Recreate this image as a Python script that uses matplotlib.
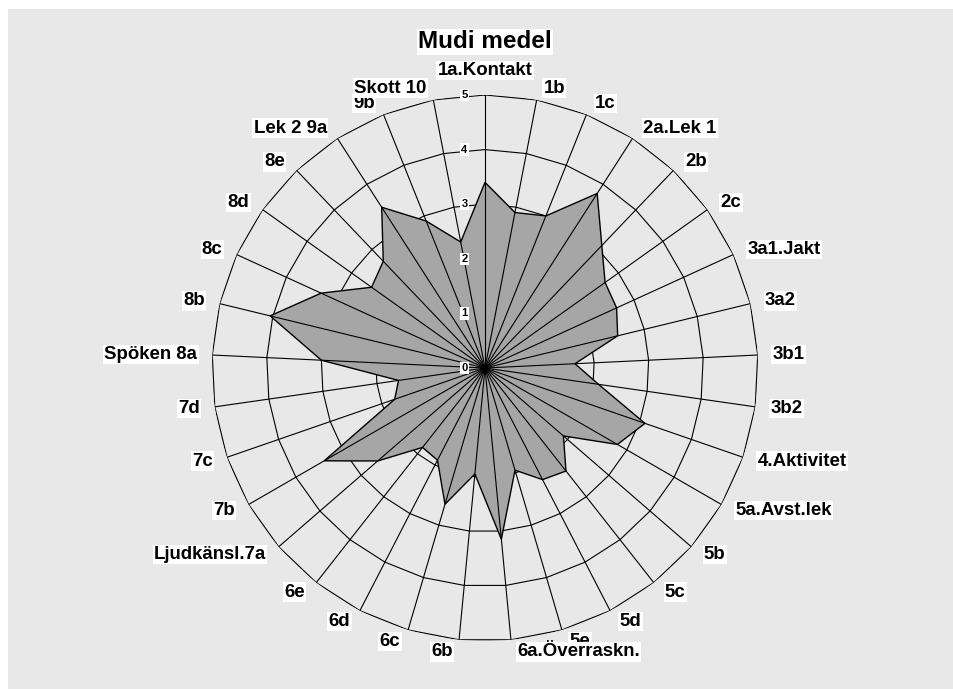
# -*- coding: utf-8 -*-

import numpy as np
import matplotlib
matplotlib.use('Agg')
import matplotlib.pyplot as plt
from matplotlib.patches import Rectangle

plt.rcParams['font.family'] = ['Liberation Sans', 'DejaVu Sans']

# Chart data.
title = 'Mudi medel'
categories = ['1a.Kontakt', '1b', '1c', '2a.Lek 1', '2b', '2c', '3a1.Jakt', '3a2',
              '3b1', '3b2', '4.Aktivitet', '5a.Avst.lek', '5b', '5c', '5d', '5e',
              '6a.Överraskn.', '6b', '6c', '6d', '6e', 'Ljudkänsl.7a', '7b', '7c',
              '7d', 'Spöken 8a', '8b', '8c', '8d', '8e', 'Lek 2 9a', '9b', 'Skott 10']
values = [3.4, 2.9, 3.0, 3.8, 3.1, 2.7, 2.65, 2.5,
          1.65, 2.1, 3.1, 2.8, 1.9, 2.4, 2.3, 1.95,
          3.15, 1.95, 2.6, 1.9, 1.85, 2.6, 3.4, 1.75,
          1.6, 3.0, 4.05, 3.3, 2.55, 2.7, 3.5, 2.9, 2.35]
ring_levels = [0, 1, 2, 3, 4, 5]
tick_labels = ['0', '1', '2', '3', '4', '5']

W, H = 954, 689
cx, cy, R = 485, 368, 273   # centre and outer radius in pixels

fig = plt.figure(figsize=(W / 100., H / 100.), dpi=100)
fig.patch.set_facecolor('white')
fig.add_artist(Rectangle((8. / W, 0), 1, 1 - 9. / H, transform=fig.transFigure,
                         facecolor='#e8e8e8', edgecolor='none', zorder=0))

ax = fig.add_axes([(cx - R) / W, (H - cy - R) / H, 2. * R / W, 2. * R / H],
                  projection='polar')
ax.set_theta_zero_location('N')
ax.set_theta_direction(-1)
ax.set_ylim(0, ring_levels[-1])
ax.set_facecolor('none')
ax.grid(False)
ax.set_xticks([])
ax.set_yticks([])
ax.spines['polar'].set_visible(False)

n = len(categories)
theta = np.linspace(0, 2 * np.pi, n, endpoint=False)
theta_c = np.append(theta, theta[0])

# Polygonal rings.
for lev in ring_levels[1:]:
    ax.plot(theta_c, [lev] * (n + 1), color='black', lw=0.8, zorder=1)

# Data polygon.
ax.fill(theta_c, np.append(values, values[0]), facecolor='#a6a6a6',
        edgecolor='black', lw=1.0, zorder=2)

# Spokes drawn above the fill.
for t in theta:
    ax.plot([t, t], [0, ring_levels[-1]], color='black', lw=0.8, zorder=3)

# Category labels outside the outer ring.
for t, name in zip(theta, categories):
    s, c = np.sin(t), np.cos(t)
    if abs(s) < 0.05:
        ha = 'center'
        va = 'bottom' if c > 0 else 'top'
        off = (0, 16 if c > 0 else -16)
    else:
        ha = 'left' if s > 0 else 'right'
        va = 'center'
        off = (np.sign(s) * (5 + 10 * abs(s)), 12 * c)
    ax.annotate(name, xy=(t, ring_levels[-1]), xytext=off, textcoords='offset pixels',
                ha=ha, va=va, fontsize=13.4, fontweight='bold', zorder=5,
                annotation_clip=False,
                bbox=dict(facecolor='white', edgecolor='none', pad=1))

# Value axis labels along the vertical spoke.
for lev, lab in zip(ring_levels, tick_labels):
    ax.annotate(lab, xy=(0, lev), xytext=(-20.5, 0), textcoords='offset pixels',
                ha='center', va='center', fontsize=8, fontweight='bold', zorder=6,
                annotation_clip=False,
                bbox=dict(facecolor='white', edgecolor='none', pad=0.8))

fig.text(cx / float(W), 1 - 42. / H, title, ha='center', va='center', fontsize=17.5,
         fontweight='bold', bbox=dict(facecolor='white', edgecolor='none', pad=1))

fig.savefig('out.png', dpi=100, facecolor=fig.get_facecolor())
